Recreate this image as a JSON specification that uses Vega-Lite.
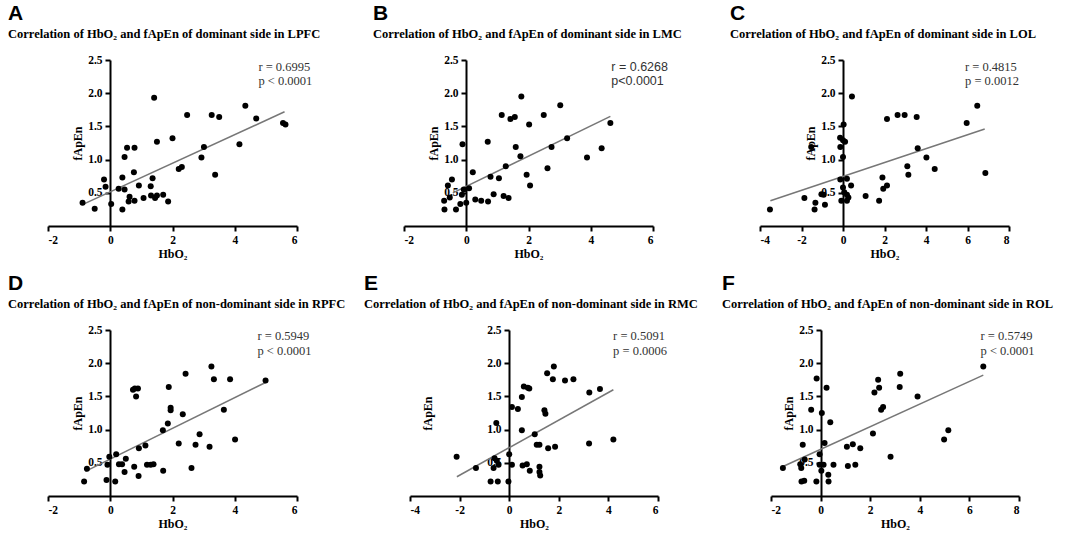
{
  "$schema": "https://vega.github.io/schema/vega-lite/v6.json",
  "padding": {"left": 8, "top": 2, "right": 0, "bottom": 0},
  "datasets": {
    "A": [
      {"HbO2": -0.89, "fApEn": 0.35}, {"HbO2": -0.5, "fApEn": 0.26}, {"HbO2": -0.2, "fApEn": 0.7}, {"HbO2": -0.15, "fApEn": 0.59},
      {"HbO2": 0.03, "fApEn": 0.33}, {"HbO2": 0.27, "fApEn": 0.56}, {"HbO2": 0.39, "fApEn": 0.73}, {"HbO2": 0.46, "fApEn": 0.55},
      {"HbO2": 0.46, "fApEn": 1.04}, {"HbO2": 0.54, "fApEn": 1.18}, {"HbO2": 0.39, "fApEn": 0.25}, {"HbO2": 0.62, "fApEn": 0.44},
      {"HbO2": 0.59, "fApEn": 0.37}, {"HbO2": 0.76, "fApEn": 0.81}, {"HbO2": 0.78, "fApEn": 1.18}, {"HbO2": 0.78, "fApEn": 0.38},
      {"HbO2": 0.92, "fApEn": 0.61}, {"HbO2": 1.07, "fApEn": 0.42}, {"HbO2": 1.31, "fApEn": 0.46}, {"HbO2": 1.3, "fApEn": 0.6},
      {"HbO2": 1.36, "fApEn": 0.72}, {"HbO2": 1.41, "fApEn": 1.93}, {"HbO2": 1.5, "fApEn": 1.27}, {"HbO2": 1.44, "fApEn": 0.42},
      {"HbO2": 1.5, "fApEn": 0.46}, {"HbO2": 1.7, "fApEn": 0.47}, {"HbO2": 1.86, "fApEn": 0.37}, {"HbO2": 2.0, "fApEn": 1.32},
      {"HbO2": 2.2, "fApEn": 0.86}, {"HbO2": 2.3, "fApEn": 0.89}, {"HbO2": 2.47, "fApEn": 1.67}, {"HbO2": 2.93, "fApEn": 1.03},
      {"HbO2": 3.01, "fApEn": 1.19}, {"HbO2": 3.26, "fApEn": 1.67}, {"HbO2": 3.5, "fApEn": 1.64}, {"HbO2": 3.37, "fApEn": 0.77},
      {"HbO2": 4.15, "fApEn": 1.23}, {"HbO2": 4.34, "fApEn": 1.81}, {"HbO2": 4.69, "fApEn": 1.62}, {"HbO2": 5.55, "fApEn": 1.55},
      {"HbO2": 5.63, "fApEn": 1.53}
    ],
    "A_fit": [{"HbO2": -0.86, "fApEn": 0.33}, {"HbO2": 5.6, "fApEn": 1.72}],
    "B": [
      {"HbO2": -0.71, "fApEn": 0.38}, {"HbO2": -0.7, "fApEn": 0.25}, {"HbO2": -0.59, "fApEn": 0.61}, {"HbO2": -0.53, "fApEn": 0.43},
      {"HbO2": -0.46, "fApEn": 0.7}, {"HbO2": -0.33, "fApEn": 0.25}, {"HbO2": -0.19, "fApEn": 0.33}, {"HbO2": -0.12, "fApEn": 1.23},
      {"HbO2": -0.14, "fApEn": 0.47}, {"HbO2": -0.08, "fApEn": 0.55}, {"HbO2": 0.0, "fApEn": 0.35}, {"HbO2": 0.09, "fApEn": 0.57},
      {"HbO2": 0.21, "fApEn": 0.81}, {"HbO2": 0.29, "fApEn": 0.4}, {"HbO2": 0.48, "fApEn": 0.38}, {"HbO2": 0.7, "fApEn": 0.37},
      {"HbO2": 0.69, "fApEn": 1.27}, {"HbO2": 0.78, "fApEn": 0.74}, {"HbO2": 0.88, "fApEn": 0.48}, {"HbO2": 1.05, "fApEn": 0.72},
      {"HbO2": 1.14, "fApEn": 1.67}, {"HbO2": 1.2, "fApEn": 0.45}, {"HbO2": 1.36, "fApEn": 0.42}, {"HbO2": 1.27, "fApEn": 0.9},
      {"HbO2": 1.42, "fApEn": 1.61}, {"HbO2": 1.56, "fApEn": 1.64}, {"HbO2": 1.59, "fApEn": 1.19}, {"HbO2": 1.74, "fApEn": 1.05},
      {"HbO2": 1.77, "fApEn": 1.95}, {"HbO2": 1.94, "fApEn": 0.77}, {"HbO2": 2.02, "fApEn": 1.53}, {"HbO2": 2.05, "fApEn": 0.61},
      {"HbO2": 2.49, "fApEn": 1.67}, {"HbO2": 2.61, "fApEn": 0.87}, {"HbO2": 2.74, "fApEn": 1.19}, {"HbO2": 3.02, "fApEn": 1.82},
      {"HbO2": 3.24, "fApEn": 1.32}, {"HbO2": 3.88, "fApEn": 1.03}, {"HbO2": 4.35, "fApEn": 1.17}, {"HbO2": 4.63, "fApEn": 1.55}
    ],
    "B_fit": [{"HbO2": -0.43, "fApEn": 0.5}, {"HbO2": 4.63, "fApEn": 1.65}],
    "C": [
      {"HbO2": -3.52, "fApEn": 0.25}, {"HbO2": -1.86, "fApEn": 0.42}, {"HbO2": -1.37, "fApEn": 0.25}, {"HbO2": -1.33, "fApEn": 0.35},
      {"HbO2": -1.04, "fApEn": 0.48}, {"HbO2": -0.93, "fApEn": 0.47}, {"HbO2": -0.87, "fApEn": 0.32}, {"HbO2": -1.53, "fApEn": 1.19},
      {"HbO2": -0.14, "fApEn": 1.33}, {"HbO2": -0.13, "fApEn": 1.19}, {"HbO2": 0.0, "fApEn": 1.29}, {"HbO2": 0.1, "fApEn": 1.27},
      {"HbO2": 0.0, "fApEn": 1.04}, {"HbO2": 0.03, "fApEn": 1.53}, {"HbO2": 0.43, "fApEn": 1.95}, {"HbO2": -0.13, "fApEn": 0.7},
      {"HbO2": 0.19, "fApEn": 0.71}, {"HbO2": 0.0, "fApEn": 0.58}, {"HbO2": 0.39, "fApEn": 0.61}, {"HbO2": -0.08, "fApEn": 0.38},
      {"HbO2": 0.19, "fApEn": 0.47}, {"HbO2": 0.19, "fApEn": 0.38}, {"HbO2": 0.06, "fApEn": 0.51}, {"HbO2": 0.26, "fApEn": 0.43},
      {"HbO2": 1.09, "fApEn": 0.45}, {"HbO2": 1.74, "fApEn": 0.38}, {"HbO2": 1.9, "fApEn": 0.73}, {"HbO2": 1.94, "fApEn": 0.56},
      {"HbO2": 2.12, "fApEn": 0.61}, {"HbO2": 2.12, "fApEn": 1.61}, {"HbO2": 2.63, "fApEn": 1.67}, {"HbO2": 2.97, "fApEn": 1.67},
      {"HbO2": 3.1, "fApEn": 0.9}, {"HbO2": 3.15, "fApEn": 0.77}, {"HbO2": 3.55, "fApEn": 1.64}, {"HbO2": 3.6, "fApEn": 1.17},
      {"HbO2": 4.02, "fApEn": 1.03}, {"HbO2": 4.42, "fApEn": 0.86}, {"HbO2": 5.96, "fApEn": 1.55}, {"HbO2": 6.47, "fApEn": 1.81},
      {"HbO2": 6.86, "fApEn": 0.8}
    ],
    "C_fit": [{"HbO2": -3.5, "fApEn": 0.38}, {"HbO2": 6.83, "fApEn": 1.46}],
    "D": [
      {"HbO2": -0.84, "fApEn": 0.22}, {"HbO2": -0.75, "fApEn": 0.41}, {"HbO2": -0.09, "fApEn": 0.47}, {"HbO2": -0.12, "fApEn": 0.24},
      {"HbO2": -0.03, "fApEn": 0.59}, {"HbO2": 0.19, "fApEn": 0.63}, {"HbO2": 0.16, "fApEn": 0.22}, {"HbO2": 0.28, "fApEn": 0.48},
      {"HbO2": 0.38, "fApEn": 0.48}, {"HbO2": 0.5, "fApEn": 0.56}, {"HbO2": 0.46, "fApEn": 0.36}, {"HbO2": 0.77, "fApEn": 0.44},
      {"HbO2": 0.91, "fApEn": 0.3}, {"HbO2": 0.92, "fApEn": 0.72}, {"HbO2": 0.79, "fApEn": 1.62}, {"HbO2": 0.89, "fApEn": 1.62},
      {"HbO2": 0.83, "fApEn": 1.5}, {"HbO2": 0.73, "fApEn": 1.6}, {"HbO2": 1.13, "fApEn": 0.76}, {"HbO2": 1.18, "fApEn": 0.47},
      {"HbO2": 1.3, "fApEn": 0.47}, {"HbO2": 1.39, "fApEn": 0.48}, {"HbO2": 1.7, "fApEn": 0.38}, {"HbO2": 1.69, "fApEn": 0.99},
      {"HbO2": 1.85, "fApEn": 1.09}, {"HbO2": 1.88, "fApEn": 1.64}, {"HbO2": 1.94, "fApEn": 1.33}, {"HbO2": 1.94, "fApEn": 1.29},
      {"HbO2": 2.2, "fApEn": 0.79}, {"HbO2": 2.33, "fApEn": 1.23}, {"HbO2": 2.42, "fApEn": 1.84}, {"HbO2": 2.61, "fApEn": 0.42},
      {"HbO2": 2.74, "fApEn": 0.77}, {"HbO2": 2.87, "fApEn": 0.93}, {"HbO2": 3.19, "fApEn": 0.74}, {"HbO2": 3.25, "fApEn": 1.95},
      {"HbO2": 3.33, "fApEn": 1.76}, {"HbO2": 3.65, "fApEn": 1.3}, {"HbO2": 3.85, "fApEn": 1.76}, {"HbO2": 4.01, "fApEn": 0.85},
      {"HbO2": 4.99, "fApEn": 1.74}
    ],
    "D_fit": [{"HbO2": -0.8, "fApEn": 0.37}, {"HbO2": 4.99, "fApEn": 1.71}],
    "E": [
      {"HbO2": -2.12, "fApEn": 0.59}, {"HbO2": -1.34, "fApEn": 0.42}, {"HbO2": -0.75, "fApEn": 0.22}, {"HbO2": -0.46, "fApEn": 0.22},
      {"HbO2": -0.59, "fApEn": 0.57}, {"HbO2": -0.63, "fApEn": 0.42}, {"HbO2": -0.5, "fApEn": 0.53}, {"HbO2": -0.43, "fApEn": 0.47},
      {"HbO2": -0.52, "fApEn": 1.1}, {"HbO2": -0.03, "fApEn": 0.22}, {"HbO2": 0.0, "fApEn": 0.63}, {"HbO2": 0.11, "fApEn": 0.47},
      {"HbO2": 0.11, "fApEn": 1.34}, {"HbO2": 0.35, "fApEn": 1.31}, {"HbO2": 0.51, "fApEn": 0.99}, {"HbO2": 0.51, "fApEn": 1.49},
      {"HbO2": 0.59, "fApEn": 1.65}, {"HbO2": 0.75, "fApEn": 1.63}, {"HbO2": 0.81, "fApEn": 1.62}, {"HbO2": 0.54, "fApEn": 0.46},
      {"HbO2": 0.71, "fApEn": 0.48}, {"HbO2": 0.83, "fApEn": 0.38}, {"HbO2": 1.03, "fApEn": 0.93}, {"HbO2": 1.11, "fApEn": 0.77},
      {"HbO2": 1.22, "fApEn": 0.77}, {"HbO2": 1.22, "fApEn": 0.44}, {"HbO2": 1.22, "fApEn": 0.36}, {"HbO2": 1.25, "fApEn": 0.31},
      {"HbO2": 1.42, "fApEn": 1.29}, {"HbO2": 1.46, "fApEn": 1.24}, {"HbO2": 1.53, "fApEn": 1.85}, {"HbO2": 1.57, "fApEn": 0.72},
      {"HbO2": 1.76, "fApEn": 1.76}, {"HbO2": 1.8, "fApEn": 1.95}, {"HbO2": 1.85, "fApEn": 0.74}, {"HbO2": 2.25, "fApEn": 1.74},
      {"HbO2": 2.59, "fApEn": 1.76}, {"HbO2": 3.23, "fApEn": 1.56}, {"HbO2": 3.22, "fApEn": 0.79}, {"HbO2": 3.66, "fApEn": 1.61},
      {"HbO2": 4.2, "fApEn": 0.85}
    ],
    "E_fit": [{"HbO2": -2.11, "fApEn": 0.29}, {"HbO2": 4.2, "fApEn": 1.6}],
    "F": [
      {"HbO2": -1.52, "fApEn": 0.42}, {"HbO2": -0.82, "fApEn": 0.48}, {"HbO2": -0.78, "fApEn": 0.42}, {"HbO2": -0.72, "fApEn": 0.77},
      {"HbO2": -0.64, "fApEn": 0.55}, {"HbO2": -0.77, "fApEn": 0.22}, {"HbO2": -0.66, "fApEn": 0.23}, {"HbO2": -0.38, "fApEn": 1.3},
      {"HbO2": -0.16, "fApEn": 1.77}, {"HbO2": -0.17, "fApEn": 0.22}, {"HbO2": -0.04, "fApEn": 0.63}, {"HbO2": -0.04, "fApEn": 0.47},
      {"HbO2": 0.03, "fApEn": 0.38}, {"HbO2": 0.05, "fApEn": 1.25}, {"HbO2": 0.12, "fApEn": 0.47}, {"HbO2": 0.16, "fApEn": 0.8},
      {"HbO2": 0.24, "fApEn": 1.63}, {"HbO2": 0.31, "fApEn": 0.32}, {"HbO2": 0.32, "fApEn": 0.22}, {"HbO2": 0.39, "fApEn": 1.11},
      {"HbO2": 0.52, "fApEn": 0.47}, {"HbO2": 1.06, "fApEn": 0.74}, {"HbO2": 1.1, "fApEn": 0.45}, {"HbO2": 1.3, "fApEn": 0.78},
      {"HbO2": 1.4, "fApEn": 0.47}, {"HbO2": 1.6, "fApEn": 0.72}, {"HbO2": 2.11, "fApEn": 0.94}, {"HbO2": 2.17, "fApEn": 1.56},
      {"HbO2": 2.32, "fApEn": 1.75}, {"HbO2": 2.36, "fApEn": 1.63}, {"HbO2": 2.44, "fApEn": 1.3}, {"HbO2": 2.52, "fApEn": 1.34},
      {"HbO2": 2.82, "fApEn": 0.59}, {"HbO2": 3.21, "fApEn": 1.84}, {"HbO2": 3.19, "fApEn": 1.64}, {"HbO2": 3.91, "fApEn": 1.5},
      {"HbO2": 4.98, "fApEn": 0.85}, {"HbO2": 5.15, "fApEn": 0.99}, {"HbO2": 6.56, "fApEn": 1.95}
    ],
    "F_fit": [{"HbO2": -1.54, "fApEn": 0.44}, {"HbO2": 6.56, "fApEn": 1.82}],
    "stats": [
      {"panel": "A", "r": "r = 0.6995", "p": "p < 0.0001"},
      {"panel": "B", "r": "r = 0.6268", "p": "p<0.0001"},
      {"panel": "C", "r": "r = 0.4815", "p": "p = 0.0012"},
      {"panel": "D", "r": "r = 0.5949", "p": "p < 0.0001"},
      {"panel": "E", "r": "r = 0.5091", "p": "p = 0.0006"},
      {"panel": "F", "r": "r = 0.5749", "p": "p < 0.0001"}
    ]
  },
  "spacing": 12,
  "vconcat": [
    {
      "bounds": "flush",
      "spacing": 107,
      "hconcat": [
        {
          "width": 249, "height": 166,
          "title": {"text": "A", "subtitle": "Correlation of HbO₂ and fApEn of dominant side in LPFC", "dx": -40},
          "layer": [
            {"data": {"name": "A_fit"}, "mark": {"type": "line", "color": "#777777", "strokeWidth": 1.5},
             "encoding": {
               "x": {"field": "HbO2", "type": "quantitative", "scale": {"domain": [-2, 6], "nice": false, "zero": false},
                     "axis": {"values": [-2, 0, 2, 4, 6], "labelExpr": "'' + datum.value", "title": "HbO₂"}},
               "y": {"field": "fApEn", "type": "quantitative", "scale": {"domain": [0, 2.5], "nice": false},
                     "axis": {"values": [0.5, 1, 1.5, 2, 2.5], "format": ".1f", "offset": -62, "title": "fApEn"}}}},
            {"data": {"name": "A"}, "mark": {"type": "circle", "size": 36, "color": "black", "opacity": 1},
             "encoding": {"x": {"field": "HbO2", "type": "quantitative"}, "y": {"field": "fApEn", "type": "quantitative"}}},
            {"data": {"name": "stats"}, "transform": [{"filter": "datum.panel === 'A'"}],
             "mark": {"type": "text", "align": "left", "baseline": "middle", "fontSize": 12.5, "fill": "#333333"},
             "encoding": {"x": {"datum": 4.76}, "y": {"datum": 2.4}, "text": {"field": "r"}}},
            {"data": {"name": "stats"}, "transform": [{"filter": "datum.panel === 'A'"}],
             "mark": {"type": "text", "align": "left", "baseline": "middle", "fontSize": 12.5, "fill": "#333333"},
             "encoding": {"x": {"datum": 4.76}, "y": {"datum": 2.19}, "text": {"field": "p"}}}
          ]
        },
        {
          "width": 249, "height": 166,
          "title": {"text": "B", "subtitle": "Correlation of HbO₂ and fApEn of dominant side in LMC", "dx": -31},
          "layer": [
            {"data": {"name": "B_fit"}, "mark": {"type": "line", "color": "#777777", "strokeWidth": 1.5},
             "encoding": {
               "x": {"field": "HbO2", "type": "quantitative", "scale": {"domain": [-2, 6], "nice": false, "zero": false},
                     "axis": {"values": [-2, 0, 2, 4, 6], "labelExpr": "'' + datum.value", "title": "HbO₂"}},
               "y": {"field": "fApEn", "type": "quantitative", "scale": {"domain": [0, 2.5], "nice": false},
                     "axis": {"values": [0.5, 1, 1.5, 2, 2.5], "format": ".1f", "offset": -62, "title": "fApEn"}}}},
            {"data": {"name": "B"}, "mark": {"type": "circle", "size": 36, "color": "black", "opacity": 1},
             "encoding": {"x": {"field": "HbO2", "type": "quantitative"}, "y": {"field": "fApEn", "type": "quantitative"}}},
            {"data": {"name": "stats"}, "transform": [{"filter": "datum.panel === 'B'"}],
             "mark": {"type": "text", "align": "left", "baseline": "middle", "font": "Liberation Sans", "fontSize": 12.5, "fill": "#333333"},
             "encoding": {"x": {"datum": 4.66}, "y": {"datum": 2.4}, "text": {"field": "r"}}},
            {"data": {"name": "stats"}, "transform": [{"filter": "datum.panel === 'B'"}],
             "mark": {"type": "text", "align": "left", "baseline": "middle", "font": "Liberation Sans", "fontSize": 12.5, "fill": "#333333"},
             "encoding": {"x": {"datum": 4.66}, "y": {"datum": 2.19}, "text": {"field": "p"}}}
          ]
        },
        {
          "width": 249, "height": 166,
          "title": {"text": "C", "subtitle": "Correlation of HbO₂ and fApEn of dominant side in LOL", "dx": -30},
          "layer": [
            {"data": {"name": "C_fit"}, "mark": {"type": "line", "color": "#777777", "strokeWidth": 1.5},
             "encoding": {
               "x": {"field": "HbO2", "type": "quantitative", "scale": {"domain": [-4, 8], "nice": false, "zero": false},
                     "axis": {"values": [-4, -2, 0, 2, 4, 6, 8], "labelExpr": "'' + datum.value", "title": "HbO₂"}},
               "y": {"field": "fApEn", "type": "quantitative", "scale": {"domain": [0, 2.5], "nice": false},
                     "axis": {"values": [0.5, 1, 1.5, 2, 2.5], "format": ".1f", "offset": -83, "title": "fApEn"}}}},
            {"data": {"name": "C"}, "mark": {"type": "circle", "size": 36, "color": "black", "opacity": 1},
             "encoding": {"x": {"field": "HbO2", "type": "quantitative"}, "y": {"field": "fApEn", "type": "quantitative"}}},
            {"data": {"name": "stats"}, "transform": [{"filter": "datum.panel === 'C'"}],
             "mark": {"type": "text", "align": "left", "baseline": "middle", "fontSize": 12.5, "fill": "#333333"},
             "encoding": {"x": {"datum": 5.88}, "y": {"datum": 2.4}, "text": {"field": "r"}}},
            {"data": {"name": "stats"}, "transform": [{"filter": "datum.panel === 'C'"}],
             "mark": {"type": "text", "align": "left", "baseline": "middle", "fontSize": 12.5, "fill": "#333333"},
             "encoding": {"x": {"datum": 5.88}, "y": {"datum": 2.19}, "text": {"field": "p"}}}
          ]
        }
      ]
    },
    {
      "bounds": "flush",
      "spacing": 113,
      "hconcat": [
        {
          "width": 249, "height": 166,
          "title": {"text": "D", "subtitle": "Correlation of HbO₂ and fApEn of non-dominant side in RPFC", "dx": -40},
          "layer": [
            {"data": {"name": "D_fit"}, "mark": {"type": "line", "color": "#777777", "strokeWidth": 1.5},
             "encoding": {
               "x": {"field": "HbO2", "type": "quantitative", "scale": {"domain": [-2, 6], "nice": false, "zero": false},
                     "axis": {"values": [-2, 0, 2, 4, 6], "labelExpr": "'' + datum.value", "title": "HbO₂"}},
               "y": {"field": "fApEn", "type": "quantitative", "scale": {"domain": [0, 2.5], "nice": false},
                     "axis": {"values": [0.5, 1, 1.5, 2, 2.5], "format": ".1f", "offset": -62, "title": "fApEn"}}}},
            {"data": {"name": "D"}, "mark": {"type": "circle", "size": 36, "color": "black", "opacity": 1},
             "encoding": {"x": {"field": "HbO2", "type": "quantitative"}, "y": {"field": "fApEn", "type": "quantitative"}}},
            {"data": {"name": "stats"}, "transform": [{"filter": "datum.panel === 'D'"}],
             "mark": {"type": "text", "align": "left", "baseline": "middle", "fontSize": 12.5, "fill": "#333333"},
             "encoding": {"x": {"datum": 4.73}, "y": {"datum": 2.41}, "text": {"field": "r"}}},
            {"data": {"name": "stats"}, "transform": [{"filter": "datum.panel === 'D'"}],
             "mark": {"type": "text", "align": "left", "baseline": "middle", "fontSize": 12.5, "fill": "#333333"},
             "encoding": {"x": {"datum": 4.73}, "y": {"datum": 2.19}, "text": {"field": "p"}}}
          ]
        },
        {
          "width": 248, "height": 166,
          "title": {"text": "E", "subtitle": "Correlation of HbO₂ and fApEn of non-dominant side in RMC", "dx": -46},
          "layer": [
            {"data": {"name": "E_fit"}, "mark": {"type": "line", "color": "#777777", "strokeWidth": 1.5},
             "encoding": {
               "x": {"field": "HbO2", "type": "quantitative", "scale": {"domain": [-4, 6], "nice": false, "zero": false},
                     "axis": {"values": [-4, -2, 0, 2, 4, 6], "labelExpr": "'' + datum.value", "title": "HbO₂"}},
               "y": {"field": "fApEn", "type": "quantitative", "scale": {"domain": [0, 2.5], "nice": false},
                     "axis": {"values": [0.5, 1, 1.5, 2, 2.5], "format": ".1f", "offset": -99, "title": "fApEn", "titlePadding": 52}}}},
            {"data": {"name": "E"}, "mark": {"type": "circle", "size": 36, "color": "black", "opacity": 1},
             "encoding": {"x": {"field": "HbO2", "type": "quantitative"}, "y": {"field": "fApEn", "type": "quantitative"}}},
            {"data": {"name": "stats"}, "transform": [{"filter": "datum.panel === 'E'"}],
             "mark": {"type": "text", "align": "left", "baseline": "middle", "fontSize": 12.5, "fill": "#333333"},
             "encoding": {"x": {"datum": 4.19}, "y": {"datum": 2.41}, "text": {"field": "r"}}},
            {"data": {"name": "stats"}, "transform": [{"filter": "datum.panel === 'E'"}],
             "mark": {"type": "text", "align": "left", "baseline": "middle", "fontSize": 12.5, "fill": "#333333"},
             "encoding": {"x": {"datum": 4.19}, "y": {"datum": 2.19}, "text": {"field": "p"}}}
          ]
        },
        {
          "width": 248, "height": 166,
          "title": {"text": "F", "subtitle": "Correlation of HbO₂ and fApEn of non-dominant side in ROL", "dx": -49},
          "layer": [
            {"data": {"name": "F_fit"}, "mark": {"type": "line", "color": "#777777", "strokeWidth": 1.5},
             "encoding": {
               "x": {"field": "HbO2", "type": "quantitative", "scale": {"domain": [-2, 8], "nice": false, "zero": false},
                     "axis": {"values": [-2, 0, 2, 4, 6, 8], "labelExpr": "'' + datum.value", "title": "HbO₂"}},
               "y": {"field": "fApEn", "type": "quantitative", "scale": {"domain": [0, 2.5], "nice": false},
                     "axis": {"values": [0.5, 1, 1.5, 2, 2.5], "format": ".1f", "offset": -50, "title": "fApEn"}}}},
            {"data": {"name": "F"}, "mark": {"type": "circle", "size": 36, "color": "black", "opacity": 1},
             "encoding": {"x": {"field": "HbO2", "type": "quantitative"}, "y": {"field": "fApEn", "type": "quantitative"}}},
            {"data": {"name": "stats"}, "transform": [{"filter": "datum.panel === 'F'"}],
             "mark": {"type": "text", "align": "left", "baseline": "middle", "fontSize": 12.5, "fill": "#333333"},
             "encoding": {"x": {"datum": 6.45}, "y": {"datum": 2.41}, "text": {"field": "r"}}},
            {"data": {"name": "stats"}, "transform": [{"filter": "datum.panel === 'F'"}],
             "mark": {"type": "text", "align": "left", "baseline": "middle", "fontSize": 12.5, "fill": "#333333"},
             "encoding": {"x": {"datum": 6.45}, "y": {"datum": 2.19}, "text": {"field": "p"}}}
          ]
        }
      ]
    }
  ],
  "config": {
    "view": {"stroke": null},
    "font": "Liberation Serif",
    "axis": {
      "grid": false, "zindex": 0,
      "domainColor": "black", "domainWidth": 2, "tickColor": "black", "tickWidth": 2, "tickSize": 5,
      "labelFont": "Liberation Serif", "labelFontWeight": "bold", "labelFontSize": 11.5, "labelColor": "black", "labelPadding": 3,
      "titleFont": "Liberation Serif", "titleFontWeight": "bold", "titleFontSize": 12, "titleColor": "black", "titlePadding": 3
    },
    "title": {
      "anchor": "start", "frame": "group", "offset": 14,
      "font": "Liberation Sans", "fontSize": 21, "fontWeight": "bold", "color": "black",
      "subtitleFont": "Liberation Serif", "subtitleFontSize": 12.5, "subtitleFontWeight": "bold", "subtitleColor": "black", "subtitlePadding": 4
    }
  }
}
